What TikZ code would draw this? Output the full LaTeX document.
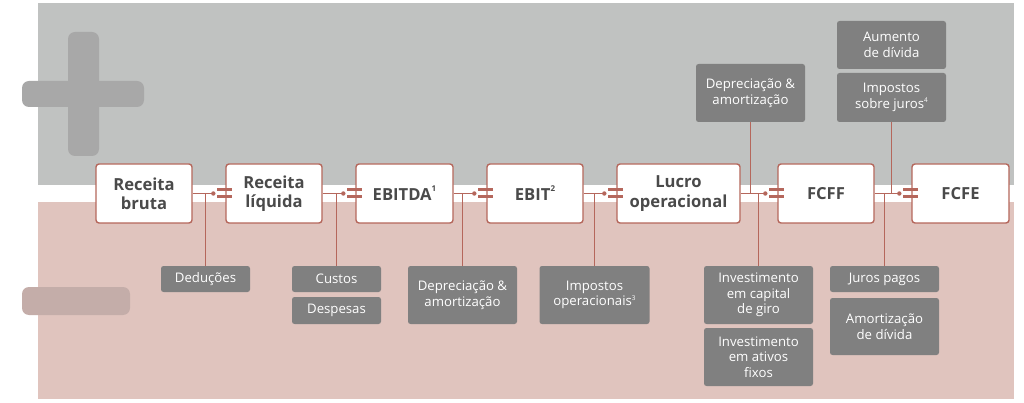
\documentclass[tikz,border=0pt]{standalone}
\usepackage{fontspec}
\setmainfont{Open Sans}
\begin{document}
\begin{tikzpicture}[x=1pt,y=-1pt,
  mainbox/.style={draw=brd,fill=white,line width=1.4pt,rounded corners=3pt,
    minimum height=59pt,inner sep=0pt,align=center,text=txtdark,
    font=\fontsize{16.6}{19.3}\selectfont\bfseries},
  subbox/.style={fill=boxgray,draw=none,rounded corners=2.5pt,inner sep=0pt,
    align=center,text=white,minimum width=109pt,
    font=\fontsize{13.2}{15.7}\selectfont},
  conn/.style={draw=brd,line width=1.4pt},
  eqbar/.style={draw=brd,line width=3pt},
]
\definecolor{bggray}{HTML}{C0C2C1}
\definecolor{bgpink}{HTML}{E0C4BE}
\definecolor{brd}{HTML}{B5675C}
\definecolor{boxgray}{HTML}{808080}
\definecolor{txtdark}{HTML}{4A4A4A}
\definecolor{plusc}{HTML}{A8A8A8}
\definecolor{minusc}{HTML}{C4ADA9}

\useasboundingbox[fill=white] (0,0) rectangle (1024,403);
% panels
\fill[bggray] (38,3) rectangle (1014,185);
\fill[bgpink] (38,202) rectangle (1014,399);
% plus and minus signs
\fill[plusc,rounded corners=7pt] (68,32) rectangle (99,156);
\fill[plusc,rounded corners=7pt] (22,81) rectangle (144,107);
\fill[minusc,rounded corners=7pt] (22,287) rectangle (130,315);

% main boxes
\node[mainbox,minimum width=96pt] (rb) at (144,193.5) {Receita\\bruta};
\node[mainbox,minimum width=96pt] (rl) at (274,193.5) {Receita\\líquida};
\node[mainbox,minimum width=97pt] (ebitda) at (404.5,193.5) {EBITDA\raisebox{0.55em}{\fontsize{8}{8}\selectfont 1}};
\node[mainbox,minimum width=96pt] (ebit) at (535,193.5) {EBIT\raisebox{0.55em}{\fontsize{8}{8}\selectfont 2}};
\node[mainbox,minimum width=123pt] (lo) at (678.5,193.5) {Lucro\\operacional};
\node[mainbox,minimum width=96pt] (fcff) at (826,193.5) {FCFF};
\node[mainbox,minimum width=97pt] (fcfe) at (960.5,193.5) {FCFE};

% sub boxes
\node[subbox,minimum width=89pt,minimum height=26pt] (ded) at (205.5,279) {Deduções};
\node[subbox,minimum width=89pt,minimum height=26pt] (cus) at (336.5,279) {Custos};
\node[subbox,minimum width=89pt,minimum height=27pt] (desp) at (336.5,310.5) {Despesas};
\node[subbox,minimum height=58pt] (dep1) at (462.5,295) {Depreciação \&\\amortização};
\node[subbox,minimum width=110pt,minimum height=58pt] (imp) at (594.5,295) {Impostos\\operacionais\raisebox{0.45em}{\fontsize{6.5}{6.5}\selectfont 3}};
\node[subbox,minimum height=58pt] (dep2) at (750.5,93) {Depreciação \&\\amortização};
\node[subbox,minimum height=58pt] (icg) at (758.5,295) {Investimento\\em capital\\de giro};
\node[subbox,minimum height=58pt] (iaf) at (758.5,357) {Investimento\\em ativos\\fixos};
\node[subbox,minimum height=48pt] (aum) at (891.5,45) {Aumento\\de dívida};
\node[subbox,minimum height=49pt] (isj) at (891.5,97.5) {Impostos\\sobre juros\raisebox{0.45em}{\fontsize{6.5}{6.5}\selectfont 4}};
\node[subbox,minimum height=26pt] (jp) at (884.5,279) {Juros pagos};
\node[subbox,minimum height=57pt] (amd) at (884.5,326.5) {Amortização\\de dívida};

% connectors between main boxes
\foreach \a/\b in {rb/rl, rl/ebitda, ebitda/ebit, ebit/lo, lo/fcff, fcff/fcfe}{
  \coordinate (d\b) at ([xshift=-12pt]\b.west);
  \draw[conn] (\a.east) -- (d\b);
  \fill[brd] (d\b) circle (2.2pt);
  \draw[eqbar] ([xshift=-8pt,yshift=-3.5pt]\b.west) -- ([xshift=7pt,yshift=-3.5pt]\b.west);
  \draw[eqbar] ([xshift=-8pt,yshift=3.5pt]\b.west) -- ([xshift=7pt,yshift=3.5pt]\b.west);
}
% vertical links
\draw[conn] (ded.north) -- (ded.north |- rb.east);
\draw[conn] (cus.north) -- (cus.north |- rb.east);
\draw[conn] (dep1.north) -- (dep1.north |- rb.east);
\draw[conn] (imp.north) -- (imp.north |- rb.east);
\draw[conn] (dep2.south) -- (dep2.south |- rb.east);
\draw[conn] (icg.north) -- (icg.north |- rb.east);
\draw[conn] (isj.south) -- (isj.south |- rb.east);
\draw[conn] (jp.north) -- (jp.north |- rb.east);
\end{tikzpicture}
\end{document}
